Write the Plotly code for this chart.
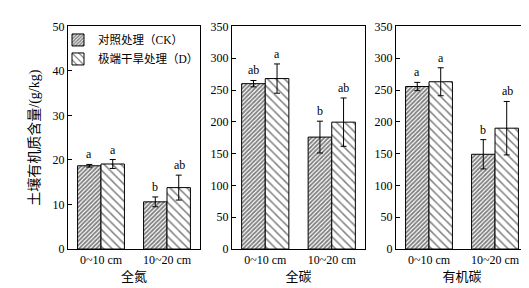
import plotly.graph_objects as go

depths = ["0~10 cm", "10~20 cm"]
panels = ["全氮", "全碳", "有机碳"]
series_names = ["对照处理（CK）", "极端干旱处理（D）"]

# values [panel][series][depth]
ck_vals = [[18.7, 10.6], [260, 176], [255.5, 149]]
ck_err = [[0.3, 1.1], [5, 25], [6.5, 23]]
d_vals = [[19.1, 13.8], [268, 199.5], [263, 190]]
d_err = [[1.0, 2.8], [23, 38], [22, 42]]
ck_letters = [["a", "b"], ["ab", "b"], ["a", "b"]]
d_letters = [["a", "ab"], ["a", "ab"], ["a", "ab"]]
y_ranges = [[0, 50], [0, 350], [0, 350]]
y_dticks = [10, 50, 50]

W, H = 529, 288
xdoms = [(60 / W, 192 / W), (224 / W, 357 / W), (388 / W, 520 / W)]
ydom = (1 - 246 / H, 1 - 12 / H)

FONT = "Liberation Serif, Times New Roman, Noto Sans CJK SC, serif"

fig = go.Figure()

styles = [
    dict(shape="/", size=3, solidity=0.6),
    dict(shape="\\", size=6, solidity=0.25),
]

for i in range(3):
    ax = "" if i == 0 else str(i + 1)
    for s, (vals, errs) in enumerate([(ck_vals, ck_err), (d_vals, d_err)]):
        st = styles[s]
        fig.add_trace(go.Bar(
            x=depths, y=vals[i],
            name=series_names[s],
            showlegend=(i == 0),
            legendgroup=str(s),
            xaxis="x" + ax, yaxis="y" + ax,
            marker=dict(
                color="white",
                line=dict(color="black", width=1),
                pattern=dict(shape=st["shape"], fgcolor="black", bgcolor="white",
                             size=st["size"], solidity=st["solidity"], fillmode="overlay"),
            ),
            error_y=dict(type="data", array=errs[i], color="black", thickness=1, width=3),
        ))

barw = 24
annotations = []
for i in range(3):
    ax = "" if i == 0 else str(i + 1)
    for s, (vals, errs, lets) in enumerate([(ck_vals, ck_err, ck_letters), (d_vals, d_err, d_letters)]):
        for j, dname in enumerate(depths):
            annotations.append(dict(
                x=dname, y=vals[i][j] + errs[i][j], xref="x" + ax, yref="y" + ax,
                text=lets[i][j], showarrow=False, yanchor="bottom", xanchor="center",
                xshift=(-barw / 2 if s == 0 else barw / 2), yshift=1,
                font=dict(family=FONT, size=12, color="black"),
            ))

annotations.append(dict(
    x=27 / W, y=(ydom[0] + ydom[1]) / 2, xref="paper", yref="paper",
    xanchor="center", yanchor="middle",
    text="土壤有机质含量/(g/kg)", textangle=-90, showarrow=False,
    font=dict(family=FONT, size=14, color="black"),
))

layout = dict(
    width=W, height=H,
    margin=dict(l=0, r=0, t=0, b=0),
    paper_bgcolor="white", plot_bgcolor="white",
    barmode="group", bargap=0.29, bargroupgap=0,
    font=dict(family=FONT, size=12, color="black"),
    showlegend=True,
    legend=dict(x=50 / W, y=1 - 11 / H, xanchor="left", yanchor="top",
                bgcolor="rgba(0,0,0,0)", font=dict(family=FONT, size=11.5),
                tracegroupgap=0, itemwidth=30),
    annotations=annotations,
)

for i in range(3):
    ax = "" if i == 0 else str(i + 1)
    layout["xaxis" + ax] = dict(
        domain=list(xdoms[i]), anchor="y" + ax,
        showline=True, linecolor="black", linewidth=1, mirror=True,
        ticks="", tickfont=dict(family=FONT, size=12),
        title=dict(text=panels[i], font=dict(family=FONT, size=13), standoff=5),
        showgrid=False, zeroline=False,
    )
    layout["yaxis" + ax] = dict(
        domain=list(ydom), anchor="x" + ax,
        range=y_ranges[i], dtick=y_dticks[i],
        showline=True, linecolor="black", linewidth=1, mirror=True,
        ticks="inside", ticklen=4, tickcolor="black",
        tickfont=dict(family=FONT, size=12),
        showgrid=False, zeroline=False,
    )

fig.update_layout(**layout)
fig.write_html("out.html")
